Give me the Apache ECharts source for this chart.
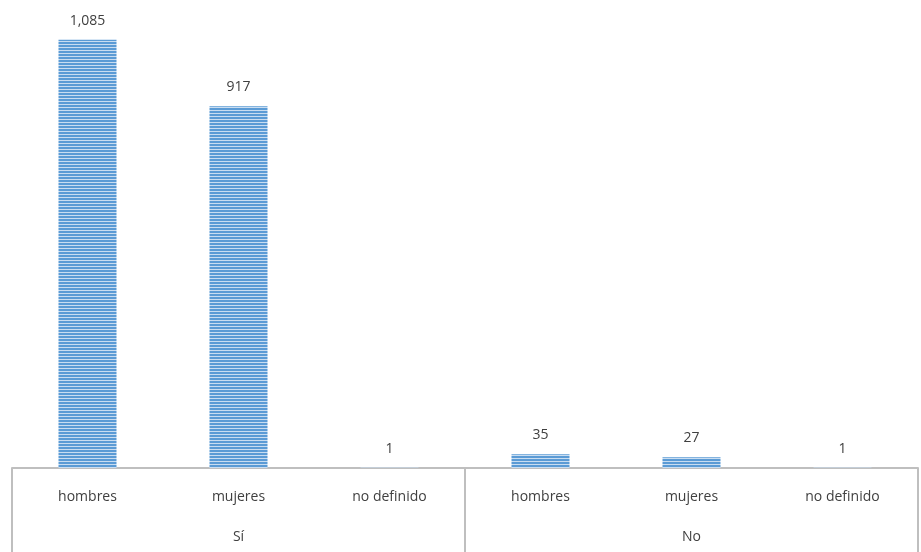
<!DOCTYPE html>
<html>
<head>
<meta charset="utf-8">
<script src="https://cdn.jsdelivr.net/npm/echarts@6/dist/echarts.min.js"></script>
<style>html,body{margin:0;padding:0;background:#fff}#main{width:921px;height:552px}</style>
</head>
<body>
<div id="main"></div>
<script>
var categories = ['hombres', 'mujeres', 'no definido', 'hombres', 'mujeres', 'no definido'];
var groups = ['Sí', 'No'];
var values = [1085, 917, 1, 35, 27, 1];

// striped fill like the original bars
var stripe = document.createElement('canvas');
stripe.width = 4; stripe.height = 3;
var sctx = stripe.getContext('2d');
sctx.fillStyle = '#5b9bd5';
sctx.fillRect(0, 0, 4, 2);
sctx.fillStyle = '#c9ddf1';
sctx.fillRect(0, 2, 4, 1);

var myChart = echarts.init(document.getElementById('main'));
var txt = '#404040', fnt = 'Open Sans';

var option = {
    animation: false,
    grid: { left: 12, right: 3, top: 0, bottom: 84 },
    xAxis: [{
        type: 'category',
        data: categories,
        axisLine: { lineStyle: { color: '#bfbfbf', width: 2 } },
        axisTick: { show: false },
        axisLabel: { color: txt, fontSize: 14, fontFamily: fnt, margin: 22, interval: 0 }
    }, {
        type: 'category',
        data: groups,
        position: 'bottom',
        offset: 84,
        axisLine: { show: false },
        axisTick: { show: true, inside: true, length: 84, lineStyle: { color: '#bfbfbf', width: 2 } },
        axisLabel: { inside: true, margin: 8, color: txt, fontSize: 14, fontFamily: fnt }
    }],
    yAxis: { type: 'value', show: false, min: 0, max: 1186 },
    series: [{
        type: 'bar',
        data: values,
        barWidth: 58,
        itemStyle: { color: { image: stripe, repeat: 'repeat' } },
        label: {
            show: true, position: 'top', distance: 12,
            color: txt, fontSize: 14, fontFamily: fnt,
            formatter: function (p) { return p.value.toLocaleString('en-US'); }
        }
    }]
};
myChart.setOption(option);
</script>
</body>
</html>
